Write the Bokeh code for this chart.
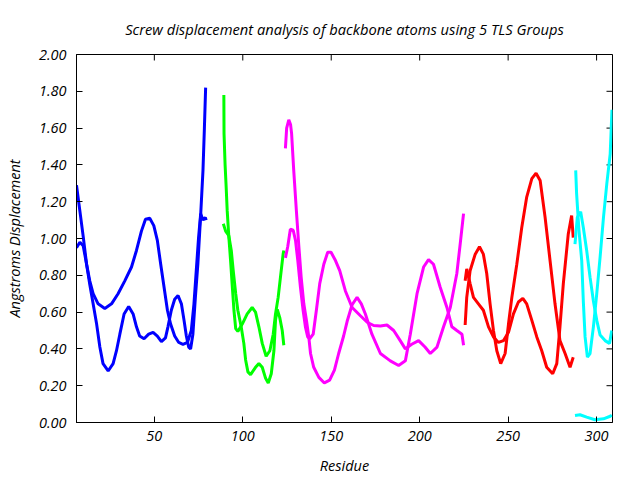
import math
from bokeh.plotting import figure
from bokeh.models import Range1d, FixedTicker, NumeralTickFormatter
from bokeh.embed import file_html
from bokeh.resources import INLINE

title_text = "Screw displacement analysis of backbone atoms using 5 TLS Groups"
x_label = "Residue"
y_label = "Angstroms Displacement"
x_ticks = [50, 100, 150, 200, 250, 300]
y_ticks = [0.0, 0.2, 0.4, 0.6, 0.8, 1.0, 1.2, 1.4, 1.6, 1.8, 2.0]
x_min, x_max = 6, 309
y_min, y_max = 0.0, 2.0

# Group 1 (blue)
blue_x_a = [6.0, 7.9, 9.8, 11.7, 13.5, 15.4, 17.3, 19.2, 21.0, 23.9, 26.7, 28.6, 30.5, 32.9, 35.5, 38.0, 39.9, 41.7,
            44.2, 46.8, 49.3, 51.7, 54.0, 56.3, 57.7, 59.6, 61.5, 63.4, 65.3, 66.8, 68.1, 69.4, 70.5, 71.8, 73.2,
            74.6, 76.2, 77.5, 78.3, 79.0]
blue_y_a = [1.29, 1.15, 1.01, 0.86, 0.75, 0.645, 0.54, 0.41, 0.32, 0.28, 0.32, 0.39, 0.48, 0.59, 0.63, 0.59, 0.52, 0.47,
            0.455, 0.48, 0.49, 0.47, 0.44, 0.46, 0.52, 0.61, 0.67, 0.69, 0.645, 0.555, 0.47, 0.41, 0.40, 0.48, 0.68,
            0.86, 1.13, 1.37, 1.60, 1.82]
blue_x_b = [6.0, 7.9, 9.8, 11.7, 13.5, 15.4, 18.2, 22.0, 25.8, 29.5, 33.3, 37.1, 39.9, 42.7, 45.0, 47.4, 49.7, 51.7,
            53.6, 55.5, 57.4, 59.2, 61.5, 63.8, 66.2, 68.7, 70.9, 72.4, 73.7, 75.0, 76.2, 77.5, 78.8, 79.3]
blue_y_b = [0.95, 0.98, 0.96, 0.86, 0.77, 0.70, 0.645, 0.62, 0.645, 0.70, 0.77, 0.845, 0.935, 1.04, 1.105, 1.11, 1.07,
            0.99, 0.86, 0.735, 0.61, 0.535, 0.47, 0.435, 0.425, 0.435, 0.50, 0.645, 0.825, 1.005, 1.135, 1.10, 1.115,
            1.10]

# Group 2 (green)
green_x_a = [89.3, 89.4, 90.0, 90.6, 91.2, 92.1, 93.1, 94.1, 95.0, 96.0, 97.2, 99.7, 102.5, 105.3, 107.2, 109.1,
             111.0, 113.2, 115.3, 117.2, 118.5, 120.0, 121.3, 122.8, 123.2]
green_y_a = [1.78, 1.57, 1.40, 1.28, 1.15, 1.01, 0.88, 0.735, 0.61, 0.51, 0.495, 0.535, 0.59, 0.625, 0.60, 0.52,
             0.43, 0.36, 0.39, 0.48, 0.59, 0.68, 0.79, 0.915, 0.935]
green_x_b = [89.0, 90.3, 92.1, 93.5, 94.6, 96.0, 97.2, 99.1, 100.6, 101.6, 102.9, 104.4, 107.2, 109.1, 111.0, 112.9,
             114.4, 116.1, 117.6, 118.5, 119.5, 120.9, 122.3, 123.2]
green_y_b = [1.08, 1.04, 1.015, 0.935, 0.825, 0.70, 0.61, 0.52, 0.43, 0.34, 0.275, 0.26, 0.30, 0.32, 0.30, 0.24,
             0.215, 0.265, 0.39, 0.555, 0.615, 0.57, 0.50, 0.42]

# Group 3 (magenta)
magenta_x_a = [124.1, 124.8, 126.0, 127.0, 127.6, 128.8, 130.3, 131.6, 133.0, 134.5, 136.0, 137.3, 138.3, 140.1,
               143.0, 146.1, 149.1, 151.8, 154.2, 157.0, 159.0, 161.8, 164.6, 167.0, 169.3, 173.0, 177.8, 183.4,
               188.1, 191.9, 194.7, 198.5, 202.2, 205.0, 207.8, 211.6, 215.4, 218.2, 221.0, 223.9, 224.8]
magenta_y_a = [1.49, 1.60, 1.645, 1.62, 1.57, 1.37, 1.15, 0.97, 0.79, 0.645, 0.555, 0.465, 0.375, 0.30, 0.245,
               0.215, 0.23, 0.285, 0.375, 0.47, 0.55, 0.64, 0.68, 0.645, 0.59, 0.48, 0.375, 0.335, 0.31, 0.335,
               0.48, 0.70, 0.845, 0.885, 0.86, 0.735, 0.625, 0.52, 0.50, 0.48, 0.42]
magenta_x_b = [124.1, 125.4, 126.9, 128.5, 129.8, 131.1, 132.6, 134.1, 135.4, 136.7, 137.8, 139.8, 141.6, 143.5,
               145.8, 148.0, 149.9, 152.4, 154.8, 158.0, 161.8, 166.5, 170.3, 174.0, 177.8, 181.5, 185.3, 189.0,
               191.9, 195.5, 199.4, 203.0, 206.0, 209.8, 213.5, 217.3, 221.0, 222.9, 224.8]
magenta_y_b = [0.895, 0.955, 1.05, 1.045, 0.99, 0.88, 0.735, 0.61, 0.52, 0.465, 0.455, 0.48, 0.61, 0.755, 0.86,
               0.925, 0.925, 0.88, 0.825, 0.715, 0.625, 0.58, 0.545, 0.527, 0.525, 0.53, 0.50, 0.445, 0.40, 0.425,
               0.445, 0.41, 0.375, 0.41, 0.52, 0.625, 0.81, 0.97, 1.135]

# Group 4 (red)
red_x_a = [225.7, 226.6, 228.5, 231.4, 233.8, 236.0, 237.9, 239.8, 241.7, 243.6, 245.8, 248.3, 250.2, 252.1, 254.9,
           257.7, 260.5, 263.4, 265.8, 268.1, 270.9, 273.7, 276.5, 279.3, 282.2, 285.0, 286.8]
red_y_a = [0.53, 0.68, 0.825, 0.915, 0.955, 0.915, 0.81, 0.645, 0.50, 0.39, 0.32, 0.375, 0.535, 0.68, 0.86, 1.06,
           1.225, 1.325, 1.355, 1.315, 1.115, 0.88, 0.645, 0.445, 0.375, 0.30, 0.355]
red_x_b = [225.7, 226.6, 228.5, 230.4, 233.2, 236.0, 238.9, 241.7, 244.5, 247.4, 250.2, 253.0, 255.8, 258.3, 260.5,
           263.4, 266.2, 269.0, 271.8, 275.2, 277.5, 279.3, 281.2, 284.0, 285.9, 286.8]
red_y_b = [0.77, 0.835, 0.755, 0.68, 0.645, 0.61, 0.52, 0.465, 0.435, 0.445, 0.49, 0.59, 0.655, 0.675, 0.645,
           0.555, 0.465, 0.39, 0.30, 0.265, 0.32, 0.52, 0.755, 1.025, 1.125, 1.005]

# Group 5 (cyan)
cyan_x_a = [288.2, 288.7, 290.0, 291.6, 292.5, 293.5, 294.8, 296.3, 298.2, 300.1, 302.0, 303.9, 305.8, 307.7, 308.7]
cyan_y_a = [1.37, 1.245, 1.05, 0.88, 0.66, 0.465, 0.355, 0.375, 0.52, 0.70, 0.90, 1.115, 1.30, 1.46, 1.70]
cyan_x_b = [287.8, 289.1, 291.0, 292.5, 294.4, 296.3, 298.2, 300.1, 302.0, 304.8, 307.3, 308.6]
cyan_y_b = [0.97, 1.115, 1.145, 1.06, 0.935, 0.79, 0.66, 0.555, 0.475, 0.445, 0.43, 0.50]
cyan_x_c = [287.8, 290.6, 294.4, 299.1, 303.9, 307.7, 308.6]
cyan_y_c = [0.038, 0.042, 0.029, 0.015, 0.02, 0.034, 0.04]

FONT = "Open Sans"
FS = "14.5px"
TICK = 6

p = figure(width=640, height=480, x_range=Range1d(x_min, x_max), y_range=Range1d(y_min, y_max),
           output_backend="svg", toolbar_location=None,
           min_border_left=76, min_border_right=28, min_border_top=54, min_border_bottom=58)
p.title.text = title_text
p.title.align = "center"
p.title.text_font = FONT
p.title.text_font_style = "italic"
p.title.text_font_size = "14.7px"
p.title.text_color = "#000000"
p.title.standoff = 31

p.xgrid.visible = False
p.ygrid.visible = False
p.outline_line_color = "black"
p.outline_line_width = 1
p.background_fill_color = "white"
p.border_fill_color = "white"

for ax in (p.xaxis[0], p.yaxis[0]):
    ax.axis_line_color = "black"
    ax.major_tick_line_color = "black"
    ax.major_tick_in = TICK
    ax.major_tick_out = 0
    ax.minor_tick_in = 0
    ax.minor_tick_out = 0
    ax.minor_tick_line_color = None
    ax.major_label_text_font = FONT
    ax.major_label_text_font_style = "italic"
    ax.major_label_text_font_size = FS
    ax.major_label_text_color = "#000000"
    ax.axis_label_text_font = FONT
    ax.axis_label_text_font_style = "italic"
    ax.axis_label_text_font_size = FS
    ax.axis_label_text_color = "#000000"

p.xaxis.ticker = FixedTicker(ticks=x_ticks)
p.yaxis.ticker = FixedTicker(ticks=y_ticks)
p.yaxis.formatter = NumeralTickFormatter(format="0.00")
p.xaxis.axis_label = x_label
p.yaxis.axis_label = y_label
p.xaxis.major_label_standoff = 8
p.yaxis.major_label_standoff = 10
p.xaxis.axis_label_standoff = 12
p.yaxis.axis_label_standoff = 12

# mirrored tick marks on the top and right borders
p.ray(x=x_ticks, y=[y_max] * len(x_ticks), length=TICK, length_units="screen",
      angle=-math.pi / 2, line_color="black", line_width=1)
p.ray(x=[x_max] * len(y_ticks), y=y_ticks, length=TICK, length_units="screen",
      angle=math.pi, line_color="black", line_width=1)

LW = 3
p.line(blue_x_a, blue_y_a, line_color="#0000ff", line_width=LW)
p.line(blue_x_b, blue_y_b, line_color="#0000ff", line_width=LW)
p.line(green_x_a, green_y_a, line_color="#00ff00", line_width=LW)
p.line(green_x_b, green_y_b, line_color="#00ff00", line_width=LW)
p.line(magenta_x_a, magenta_y_a, line_color="#ff00ff", line_width=LW)
p.line(magenta_x_b, magenta_y_b, line_color="#ff00ff", line_width=LW)
p.line(red_x_a, red_y_a, line_color="#ff0000", line_width=LW)
p.line(red_x_b, red_y_b, line_color="#ff0000", line_width=LW)
p.line(cyan_x_a, cyan_y_a, line_color="#00ffff", line_width=LW)
p.line(cyan_x_b, cyan_y_b, line_color="#00ffff", line_width=LW)
p.line(cyan_x_c, cyan_y_c, line_color="#00ffff", line_width=LW)

open("out.html", "w").write(file_html(p, INLINE))
